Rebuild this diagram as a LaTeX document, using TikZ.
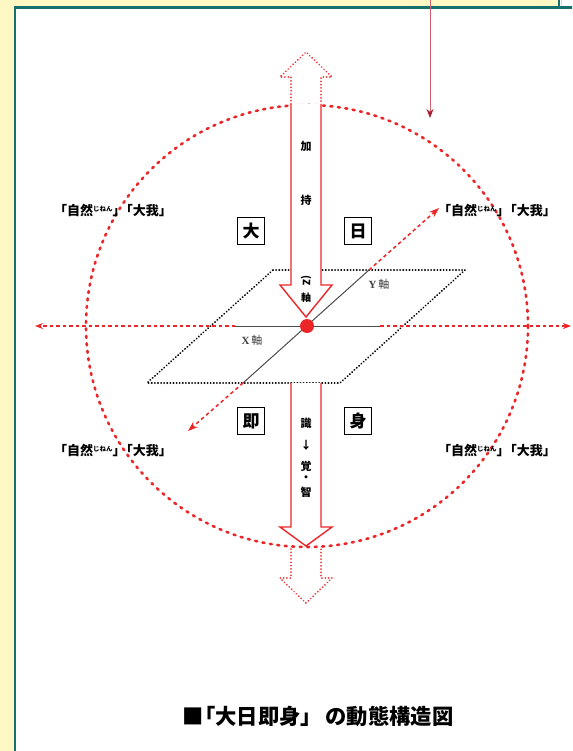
\documentclass[tikz,border=0pt]{standalone}
\usepackage{fontspec}
\usepackage{tikz}
\usetikzlibrary{arrows.meta,positioning,calc}
\setmainfont{Noto Sans CJK JP}
\newfontfamily\latinserif{Liberation Serif}
\definecolor{panelYellow}{RGB}{255,247,196}
\definecolor{panelTeal}  {RGB}{22, 112, 110}
\definecolor{axisRed}    {RGB}{236, 38,  40}
\definecolor{pointerRed} {RGB}{205, 95, 110}
\definecolor{pointerTip} {RGB}{170, 30,  50}
\newcommand{\jinen}{\raisebox{4.5pt}{\fontsize{6.5}{6.5}\selectfont じねん}}
\newcommand{\jinenlabel}{「自然\jinen」\hspace{-0.45em}「大我」}

\begin{document}
\begin{tikzpicture}[x=1pt,y=-1pt,
    dot circle/.style={axisRed,line width=2.6pt,line cap=round,dash pattern=on 2pt off 5.5pt},
    axis dash/.style={axisRed,line width=1.5pt,dash pattern=on 3.5pt off 3pt},
    axis solid/.style={black!70,line width=1pt},
    plane/.style={black,line width=2pt,line cap=round,dash pattern=on 0.1pt off 3pt},
    block arrow/.style={axisRed,line width=1.4pt,fill=white,line join=miter},
    ghost arrow/.style={axisRed!90,line width=1.9pt,line cap=round,dash pattern=on 0.1pt off 3.2pt},
    kanji box/.style={draw=black,line width=1.3pt,font=\bfseries\fontsize{17}{17}\selectfont,
                      minimum size=27pt,inner sep=0pt},
    arrow text/.style={font=\bfseries\fontsize{11}{11}\selectfont,inner sep=0pt},
    ruby label/.style={font=\bfseries\fontsize{13}{13}\selectfont,inner sep=0pt},
    axis label/.style={font=\fontsize{11}{11}\selectfont,black!75,inner sep=0pt}]

    % ── PAGE ───────────────────────────────────────────────
    \useasboundingbox (0,0) rectangle (572,751);
    \clip (0,0) rectangle (572,751);
    \fill[panelYellow] (0,0) rectangle (572,751);
    \fill[white] (560,0) rectangle (572,7);
    \draw[panelTeal,line width=2pt] (559,0) -- (559,7);
    \draw[cyan!30,line width=0.8pt] (561.5,0) -- (561.5,7);
    \filldraw[fill=white,draw=panelTeal,line width=2.5pt] (15,7.5) rectangle (590,770);

    % ── CIRCLE & PLANE ─────────────────────────────────────
    \coordinate (O) at (307,326);
    \draw[dot circle] (O) circle[radius=221];
    \draw[plane] (273,270) -- (465,270) -- (340,383) -- (147,383) -- cycle;

    % X axis
    \coordinate (xW)   at (35,326);
    \coordinate (xE)   at (571,326);
    \coordinate (xWin) at (235,326);
    \coordinate (xEin) at (380,326);
    \draw[axis dash,-{Stealth[length=8pt,width=6pt]}] (xWin) -- (xW);
    \draw[axis dash,-{Stealth[length=8pt,width=6pt]}] (xEin) -- (xE);
    \draw[axis solid] (xWin) -- (xEin);

    % Y axis
    \coordinate (ySW)   at (188,431);
    \coordinate (yNE)   at (439,208);
    \coordinate (ySWin) at (243,383);
    \coordinate (yNEin) at (369,270);
    \draw[axis dash,-{Stealth[length=10pt,width=7pt]}] (ySWin) -- (ySW);
    \draw[axis dash,-{Stealth[length=10pt,width=7pt]}] (yNEin) -- (yNE);
    \draw[axis solid] (ySWin) -- (yNEin);

    \node[axis label] (xlabel) at (252,340) {{\latinserif\bfseries X}\,軸};
    \node[axis label] (ylabel) at (379,284) {{\latinserif\bfseries Y}\,軸};

    % ── Z ARROWS ───────────────────────────────────────────
    \draw[ghost arrow] (291,104) -- (291,77) -- (280,77) -- (306,52) -- (332,77) -- (321,77) -- (321,104);
    \draw[block arrow] (291,104) -- (291,285) -- (280,285) -- (306,317) -- (332,285) -- (321,285) -- (321,104);
    \draw[block arrow] (291,383) -- (291,527) -- (280,527) -- (306,546) -- (332,527) -- (321,527) -- (321,383);
    \draw[ghost arrow] (291,549) -- (291,578) -- (280,578) -- (306,603) -- (332,578) -- (321,578) -- (321,549);

    \node[arrow text] (kaji1) at (306,146) {加};
    \node[arrow text] (kaji2) at (306,200) {持};
    \node[arrow text,font=\bfseries\fontsize{10}{10}\selectfont] (zaxis1) at (306,281) {\rotatebox{-90}{(Z}};
    \node[arrow text,font=\bfseries\fontsize{10}{10}\selectfont] (zaxis2) at (306,298) {軸};
    \foreach \ch/\y [count=\i] in {識/423, ↓/445, 覚/466, ・/479, 智/492}
      \node[arrow text] (low\i) at (306,\y) {\ch};

    \fill[axisRed] (O) circle[radius=7];

    % ── QUADRANTS ──────────────────────────────────────────
    \node[kanji box] (dai)   at (251,231) {大};
    \node[kanji box] (nichi) at (358,231) {日};
    \node[kanji box] (soku)  at (251,421) {即};
    \node[kanji box] (shin)  at (358,421) {身};

    \node[ruby label] (jinenNW) at (113,211) {\jinenlabel};
    \node[ruby label] (jinenNE) at (497,211) {\jinenlabel};
    \node[ruby label] (jinenSW) at (113,451) {\jinenlabel};
    \node[ruby label] (jinenSE) at (497,451) {\jinenlabel};

    % pointer from above
    \coordinate (ptrTop) at (430,0);
    \coordinate (ptrEnd) at (430,118);
    \draw[pointerRed,line width=1pt,-{Stealth[length=9pt,width=7pt,color=pointerTip]}] (ptrTop) -- (ptrEnd);

    % caption
    \node[font=\bfseries\fontsize{21.3}{21.3}\selectfont] (caption) at (318,716)
      {■\hspace{-0.45em}「大日即身」\,の動態構造図};

\end{tikzpicture}
\end{document}
